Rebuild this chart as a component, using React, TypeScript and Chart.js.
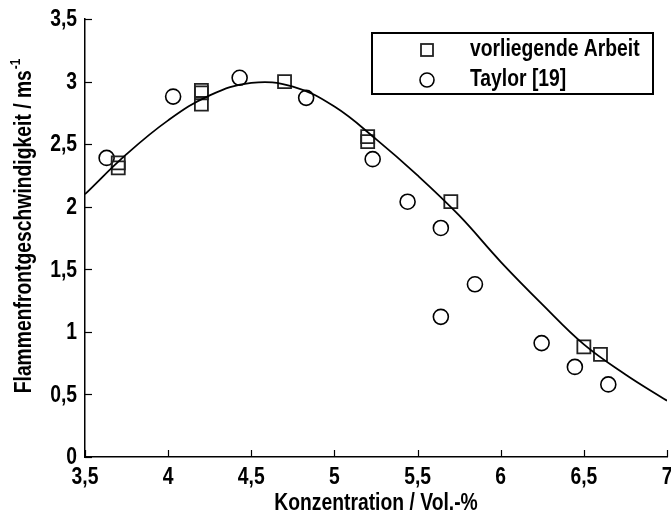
import React, { useEffect, useRef } from 'react';
import { Chart, registerables } from 'chart.js';

Chart.register(...registerables);

// Data
const arbeitX = [3.7, 3.7, 4.2, 4.2, 4.2, 4.7, 5.2, 5.2, 5.7, 6.5, 6.6];
const arbeitY = [2.35, 2.31, 2.93, 2.91, 2.82, 3.0, 2.56, 2.52, 2.04, 0.88, 0.82];

const taylorX = [3.63, 4.03, 4.43, 4.83, 5.23, 5.44, 5.64, 5.64, 5.845, 6.246, 6.446, 6.647];
const taylorY = [2.39, 2.88, 3.03, 2.87, 2.38, 2.04, 1.83, 1.12, 1.38, 0.91, 0.72, 0.58];

const fitX = [3.5, 3.75, 4.0, 4.25, 4.5, 4.75, 5.0, 5.25, 5.5, 5.75, 6.0, 6.25, 6.5, 6.75, 7.0];
const fitY = [2.1, 2.42, 2.69, 2.89, 2.99, 2.96, 2.8, 2.54, 2.25, 1.93, 1.56, 1.22, 0.9, 0.66, 0.45];

const xTicks = [3.5, 4, 4.5, 5, 5.5, 6, 6.5, 7];
const yTicks = [0, 0.5, 1, 1.5, 2, 2.5, 3, 3.5];

const legendLabels = ['vorliegende Arbeit', 'Taylor [19]'];
const xTitle = 'Konzentration / Vol.-%';
const yTitleMain = 'Flammenfrontgeschwindigkeit / ms';
const yTitleSup = '-1';

const FONT = '"Liberation Sans", Arial, sans-serif';
const SX = 0.84; // horizontal condensing of the label font
const fmt = (v: number) => String(v).replace('.', ',');

function drawText(
  ctx: CanvasRenderingContext2D,
  text: string,
  x: number,
  y: number,
  align: CanvasTextAlign,
  baseline: CanvasTextBaseline
) {
  ctx.save();
  ctx.translate(x, y);
  ctx.scale(SX, 1);
  ctx.textAlign = align;
  ctx.textBaseline = baseline;
  ctx.fillText(text, 0, 0);
  ctx.restore();
}

const customPlugin = {
  id: 'customDecor',
  afterDraw(chart: any) {
    const ctx = chart.ctx as CanvasRenderingContext2D;
    const xs = chart.scales.x;
    const ys = chart.scales.y;
    const area = chart.chartArea;
    ctx.save();
    ctx.strokeStyle = '#000';
    ctx.lineWidth = 1.2;
    // inward ticks
    xTicks.forEach((t) => {
      const px = Math.round(xs.getPixelForValue(t)) + 0.5;
      ctx.beginPath();
      ctx.moveTo(px, area.bottom);
      ctx.lineTo(px, area.bottom - 7);
      ctx.stroke();
    });
    yTicks.forEach((t) => {
      const py = Math.round(ys.getPixelForValue(t)) + 0.5;
      ctx.beginPath();
      ctx.moveTo(area.left, py);
      ctx.lineTo(area.left + 7, py);
      ctx.stroke();
    });

    ctx.fillStyle = '#000';
    const labelFont = `bold 23px ${FONT}`;
    ctx.font = labelFont;
    // x tick labels
    xTicks.forEach((t) => {
      drawText(ctx, fmt(t), xs.getPixelForValue(t), area.bottom + 9, 'center', 'top');
    });
    // y tick labels
    yTicks.forEach((t) => {
      drawText(ctx, fmt(t), area.left - 8, ys.getPixelForValue(t) + 1, 'right', 'middle');
    });
    // x title
    drawText(ctx, xTitle, (area.left + area.right) / 2, 504, 'center', 'middle');

    // y title with superscript
    const supFont = `bold 14px ${FONT}`;
    ctx.font = labelFont;
    const wMain = ctx.measureText(yTitleMain).width * SX;
    ctx.font = supFont;
    const wSup = ctx.measureText(yTitleSup).width * SX;
    const total = wMain + wSup + 1;
    const cy = 226;
    ctx.save();
    ctx.translate(25, cy);
    ctx.rotate(-Math.PI / 2);
    ctx.font = labelFont;
    drawText(ctx, yTitleMain, -total / 2, 0, 'left', 'middle');
    ctx.font = supFont;
    drawText(ctx, yTitleSup, -total / 2 + wMain + 1, -9, 'left', 'middle');
    ctx.restore();

    // legend box
    const bx = 372, by = 33, bw = 281, bh = 61;
    ctx.lineWidth = 2;
    ctx.strokeStyle = '#000';
    ctx.strokeRect(bx, by, bw, bh);
    ctx.font = labelFont;
    // square
    ctx.lineWidth = 1.8;
    ctx.strokeStyle = '#222';
    ctx.strokeRect(427 - 6, 50 - 6, 12, 12);
    drawText(ctx, legendLabels[0], 470, 50, 'left', 'middle');
    // circle
    ctx.strokeStyle = '#000';
    ctx.lineWidth = 1.6;
    ctx.beginPath();
    ctx.arc(427, 80, 7, 0, Math.PI * 2);
    ctx.stroke();
    drawText(ctx, legendLabels[1], 470, 80, 'left', 'middle');
    ctx.restore();
  },
};

export default function App() {
  const ref = useRef<HTMLCanvasElement | null>(null);
  useEffect(() => {
    if (!ref.current) return;
    const chart = new Chart(ref.current, {
      type: 'scatter',
      data: {
        datasets: [
          {
            label: 'Fit',
            data: fitX.map((x, i) => ({ x, y: fitY[i] })),
            showLine: true,
            borderColor: '#000',
            borderWidth: 1.8,
            pointRadius: 0,
            tension: 0.4,
            fill: false,
          } as any,
          {
            label: legendLabels[0],
            data: arbeitX.map((x, i) => ({ x, y: arbeitY[i] })),
            pointStyle: 'rect',
            pointRadius: 9.2,
            borderColor: '#222',
            borderWidth: 1.8,
            backgroundColor: 'rgba(0,0,0,0)',
            showLine: false,
          },
          {
            label: legendLabels[1],
            data: taylorX.map((x, i) => ({ x, y: taylorY[i] })),
            pointStyle: 'circle',
            pointRadius: 7.5,
            borderColor: '#000',
            borderWidth: 1.6,
            backgroundColor: 'rgba(0,0,0,0)',
            showLine: false,
          },
        ],
      },
      options: {
        responsive: false,
        animation: false,
        layout: { autoPadding: false, padding: { left: 0, top: 19, right: 4, bottom: 0 } },
        plugins: { legend: { display: false }, tooltip: { enabled: false } },
        scales: {
          x: {
            type: 'linear',
            min: 3.5,
            max: 7,
            afterBuildTicks: (s: any) => {
              s.ticks = xTicks.map((v) => ({ value: v }));
            },
            afterFit: (s: any) => {
              s.height = 58;
              s.paddingLeft = 0;
              s.paddingRight = 0;
            },
            ticks: { display: false },
            grid: { drawOnChartArea: false, drawTicks: false },
            border: { display: true, color: '#000', width: 1.5 },
          },
          y: {
            type: 'linear',
            min: 0,
            max: 3.5,
            afterBuildTicks: (s: any) => {
              s.ticks = yTicks.map((v) => ({ value: v }));
            },
            afterFit: (s: any) => {
              s.width = 85;
              s.paddingTop = 0;
              s.paddingBottom = 0;
            },
            ticks: { display: false },
            grid: { drawOnChartArea: false, drawTicks: false },
            border: { display: true, color: '#000', width: 1.5 },
          },
        },
      },
      plugins: [customPlugin],
    });
    return () => chart.destroy();
  }, []);
  return (
    <div style={{ position: 'absolute', left: 0, top: 0, width: 671, height: 515, background: '#fff' }}>
      <canvas ref={ref} width={671} height={515} style={{ display: 'block', width: 671, height: 515 }} />
    </div>
  );
}
